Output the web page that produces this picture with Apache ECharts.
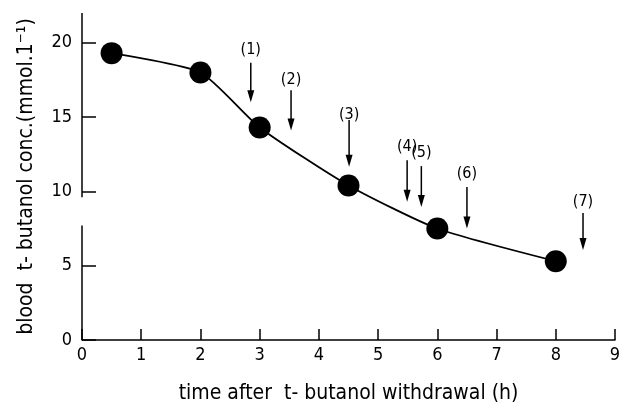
<!DOCTYPE html>
<html><head><meta charset="utf-8">
<script src="https://cdn.jsdelivr.net/npm/echarts@6/dist/echarts.min.js"></script>
<style>html,body{margin:0;padding:0;background:#fff}#c{width:623px;height:406px}</style>
</head><body><div id="c"></div>
<script>
var timeH = [0.5, 2, 3, 4.5, 6, 8];
var concValues = [19.3, 18.0, 14.3, 10.4, 7.5, 5.3];
var xTicks = [0,1,2,3,4,5,6,7,8,9];
var yTicks = [0,5,10,15,20];
// arrows: label, x position, label y, arrow start y, arrow tip y
var arrowLabels = ['(1)','(2)','(3)','(4)','(5)','(6)','(7)'];
var arrowX = [2.85, 3.53, 4.51, 5.49, 5.73, 6.5, 8.46];
var arrowLabelY = [19.5, 17.5, 15.15, 13.0, 12.6, 11.2, 9.3];
var arrowTop = [18.65, 16.8, 14.8, 12.1, 11.7, 10.3, 8.55];
var arrowTip = [16.0, 14.1, 11.65, 9.3, 8.95, 7.5, 6.06];
// y axis drawn in two pieces (axis break)
var yAxisPieces = [[0, 7.7], [9.6, 22]];

var FONT = '"DejaVu Sans Condensed", sans-serif';
var chart = echarts.init(document.getElementById('c'));
var arrowData = arrowX.map(function(x,i){return [x, arrowLabelY[i], arrowTop[i], arrowTip[i], i];});
chart.setOption({
  animation:false,
  backgroundColor:'#fff',
  grid:{left:82,right:8,top:13,bottom:66,outerBoundsMode:'none',containLabel:false},
  xAxis:{type:'value',min:0,max:9,interval:1,
    name:'time after  t- butanol withdrawal (h)',nameLocation:'middle',nameGap:43,
    nameTextStyle:{fontFamily:FONT,fontSize:21,color:'#000'},
    axisLine:{show:true,lineStyle:{color:'#000',width:1.5}},
    axisTick:{show:true,inside:true,length:11,lineStyle:{color:'#000',width:1.5}},
    axisLabel:{fontFamily:FONT,fontSize:18,color:'#000',margin:6},
    splitLine:{show:false}},
  yAxis:{type:'value',min:0,max:22,interval:5,
    name:'blood  t- butanol conc.(mmol.1\u207B\u00B9)',nameLocation:'middle',nameGap:45,
    nameTextStyle:{fontFamily:FONT,fontSize:21,color:'#000'},
    axisLine:{show:false},
    axisTick:{show:true,inside:true,length:14,customValues:yTicks,lineStyle:{color:'#000',width:1.5}},
    axisLabel:{fontFamily:FONT,fontSize:18,color:'#000',margin:10,customValues:yTicks},
    splitLine:{show:false}},
  series:[
    {type:'line',data:timeH.map(function(t,i){return [t,concValues[i]];}),
     smooth:0.2,symbol:'circle',symbolSize:22,
     lineStyle:{color:'#000',width:1.8},itemStyle:{color:'#000'},z:5},
    {type:'custom',data:yAxisPieces,
     renderItem:function(params,api){
       var a=api.coord([0,api.value(0)]), b=api.coord([0,api.value(1)]);
       return {type:'line',shape:{x1:a[0],y1:a[1],x2:b[0],y2:b[1]},style:{stroke:'#000',lineWidth:1.5}};
     },z:4},
    {type:'custom',data:arrowData,
     renderItem:function(params,api){
       var x=api.value(0);
       var lab=api.coord([x,api.value(1)]);
       var top=api.coord([x,api.value(2)]);
       var tip=api.coord([x,api.value(3)]);
       var idx=api.value(4);
       return {type:'group',children:[
         {type:'line',shape:{x1:top[0],y1:top[1],x2:tip[0],y2:tip[1]-8},style:{stroke:'#000',lineWidth:1.5}},
         {type:'polygon',shape:{points:[[tip[0]-3.5,tip[1]-12],[tip[0]+3.5,tip[1]-12],[tip[0],tip[1]]]},style:{fill:'#000'}},
         {type:'text',x:lab[0],y:lab[1],style:{text:arrowLabels[idx],fontFamily:FONT,fontSize:16,fill:'#000',align:'center',verticalAlign:'middle'}}
       ]};
     },z:6}
  ]
});
</script></body></html>
